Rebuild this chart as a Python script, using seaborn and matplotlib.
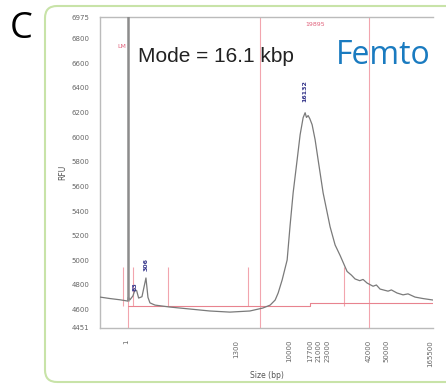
import matplotlib
matplotlib.use('Agg')
import matplotlib.pyplot as plt
from matplotlib.patches import FancyBboxPatch
from matplotlib.transforms import IdentityTransform
import seaborn as sns
import pandas as pd

# Electropherogram trace (position along the run, RFU)
trace_pos = [0, 3.0, 6.0, 7.8, 8.3, 8.5, 9.0, 9.9, 10.5, 11.0, 11.6, 12.6, 13.8, 14.4,
             15.0, 16.5, 21.0, 27.0, 33.0, 39.0, 45.0, 48.9, 51.1, 52.6, 53.5, 54.7, 56.2,
             57.1, 58.0, 59.2, 60.1, 61.0, 61.6, 62.0, 62.5, 63.0, 63.7, 64.6, 65.5, 67.0,
             69.1, 70.6, 72.1, 74.2, 75.5, 76.6, 78.0, 79.0, 80.2, 82.0, 83.0, 84.1, 86.5,
             87.5, 89.2, 91.0, 92.5, 94.6, 97.0, 100]
trace_rfu = [4702, 4690, 4680, 4672, 4670, 4700, 4680, 4712, 4760, 4755, 4694, 4705, 4857, 4700,
             4655, 4637, 4621, 4605, 4589, 4580, 4589, 4613, 4637, 4678, 4735, 4841, 5003,
             5288, 5548, 5816, 6020, 6158, 6198, 6160, 6175, 6150, 6101, 5979, 5816, 5548,
             5272, 5125, 5040, 4910, 4880, 4849, 4835, 4845, 4816, 4790, 4800, 4767, 4750,
             4760, 4735, 4720, 4728, 4702, 4690, 4678]

# lower marker peak (off scale)
lm_pos = 8.4
lm_rfu = 9000

# baseline (red)
base_pos = [8.4, 63.0, 63.0, 100]
base_rfu = [4630, 4630, 4655, 4655]

# full-height marker lines and short peak-boundary lines
marker_pos = [8.4, 48.0, 80.8]
bound_pos = [6.9, 9.9, 20.4, 44.4, 73.3]
bound_top = 4950

# size ladder ticks
tick_pos = [7.8, 40.8, 56.8, 63.1, 65.5, 68.2, 80.8, 85.9, 99.1]
tick_lbl = ['1', '1300', '10000', '17700', '21000', '23000', '42000', '50000', '165500']
ytick_vals = [4451, 4600, 4800, 5000, 5200, 5400, 5600, 5800, 6000, 6200, 6400, 6600, 6800, 6975]

# peak labels
peak_lbl = ['83', '306', '16132']
peak_pos = [10.5, 13.8, 61.6]
peak_y = [4784, 4963, 6377]

sns.set_style('white')
fig = plt.figure(figsize=(4.46, 3.87), dpi=100)
ax = fig.add_axes([100 / 446, 1 - 328 / 387, 333 / 446, 311 / 387])

pink = '#f2a5ae'
red = '#e8838f'
for p in marker_pos:
    ax.axvline(p, color=pink, lw=0.8, zorder=1)
ax.vlines(bound_pos, [base_rfu[0]] * len(bound_pos), bound_top, color=pink, lw=0.8, zorder=1)
ax.plot(base_pos, base_rfu, color=red, lw=0.8, zorder=2)

df = pd.DataFrame({'pos': trace_pos, 'rfu': trace_rfu})
sns.lineplot(data=df, x='pos', y='rfu', ax=ax, color='#7a7a7a', lw=0.9,
             estimator=None, sort=False, zorder=3)
ax.vlines(lm_pos, 4670, lm_rfu, color='#8c8c8c', lw=1.8, zorder=3)

for lbl, x, y in zip(peak_lbl, peak_pos, peak_y):
    ax.text(x, y, lbl, rotation=90, ha='center', va='center', fontsize=4.5,
            color='#34348a', fontweight='bold')
ax.text(6.6, 6735, 'LM', color='#e0607a', fontsize=4.5, ha='center', va='center')
ax.text(64.6, 6914, '19895', color='#e0607a', fontsize=4.5, ha='center', va='center')

ax.set_xlim(0, 100)
ax.set_ylim(4451, 6975)
ax.set_xticks(tick_pos)
ax.set_xticklabels(tick_lbl, rotation=90)
ax.set_yticks(ytick_vals)
ax.tick_params(axis='both', labelsize=5, colors='#666666', length=4, width=0.6, direction='out')
ax.tick_params(axis='x', length=5)
for s in ['left', 'bottom', 'top']:
    ax.spines[s].set_color('#bbbbbb')
    ax.spines[s].set_linewidth(1)
ax.spines['right'].set_visible(False)
ax.set_xlabel('Size (bp)', fontsize=5.5, color='#555555', labelpad=3)
ax.set_ylabel('RFU', fontsize=5.5, color='#555555', labelpad=3)

fig.text(138 / 446, 1 - 57 / 387, 'Mode = 16.1 kbp', fontsize=15, color='#222222',
         family='Liberation Sans', va='center', ha='left')
fig.text(336 / 446, 1 - 56 / 387, 'Femto', fontsize=23, color='#1a7bc0',
         family='Open Sans', va='center', ha='left')
fig.text(10 / 446, 1 - 29 / 387, 'C', fontsize=26, color='black',
         family='Open Sans', va='center', ha='left')

frame = FancyBboxPatch((45, 5), 460, 376, boxstyle='round,pad=0,rounding_size=12',
                       transform=IdentityTransform(), fill=False,
                       edgecolor='#c8e3a8', lw=1.5, zorder=0)
fig.add_artist(frame)

fig.savefig('out.png', dpi=100)
